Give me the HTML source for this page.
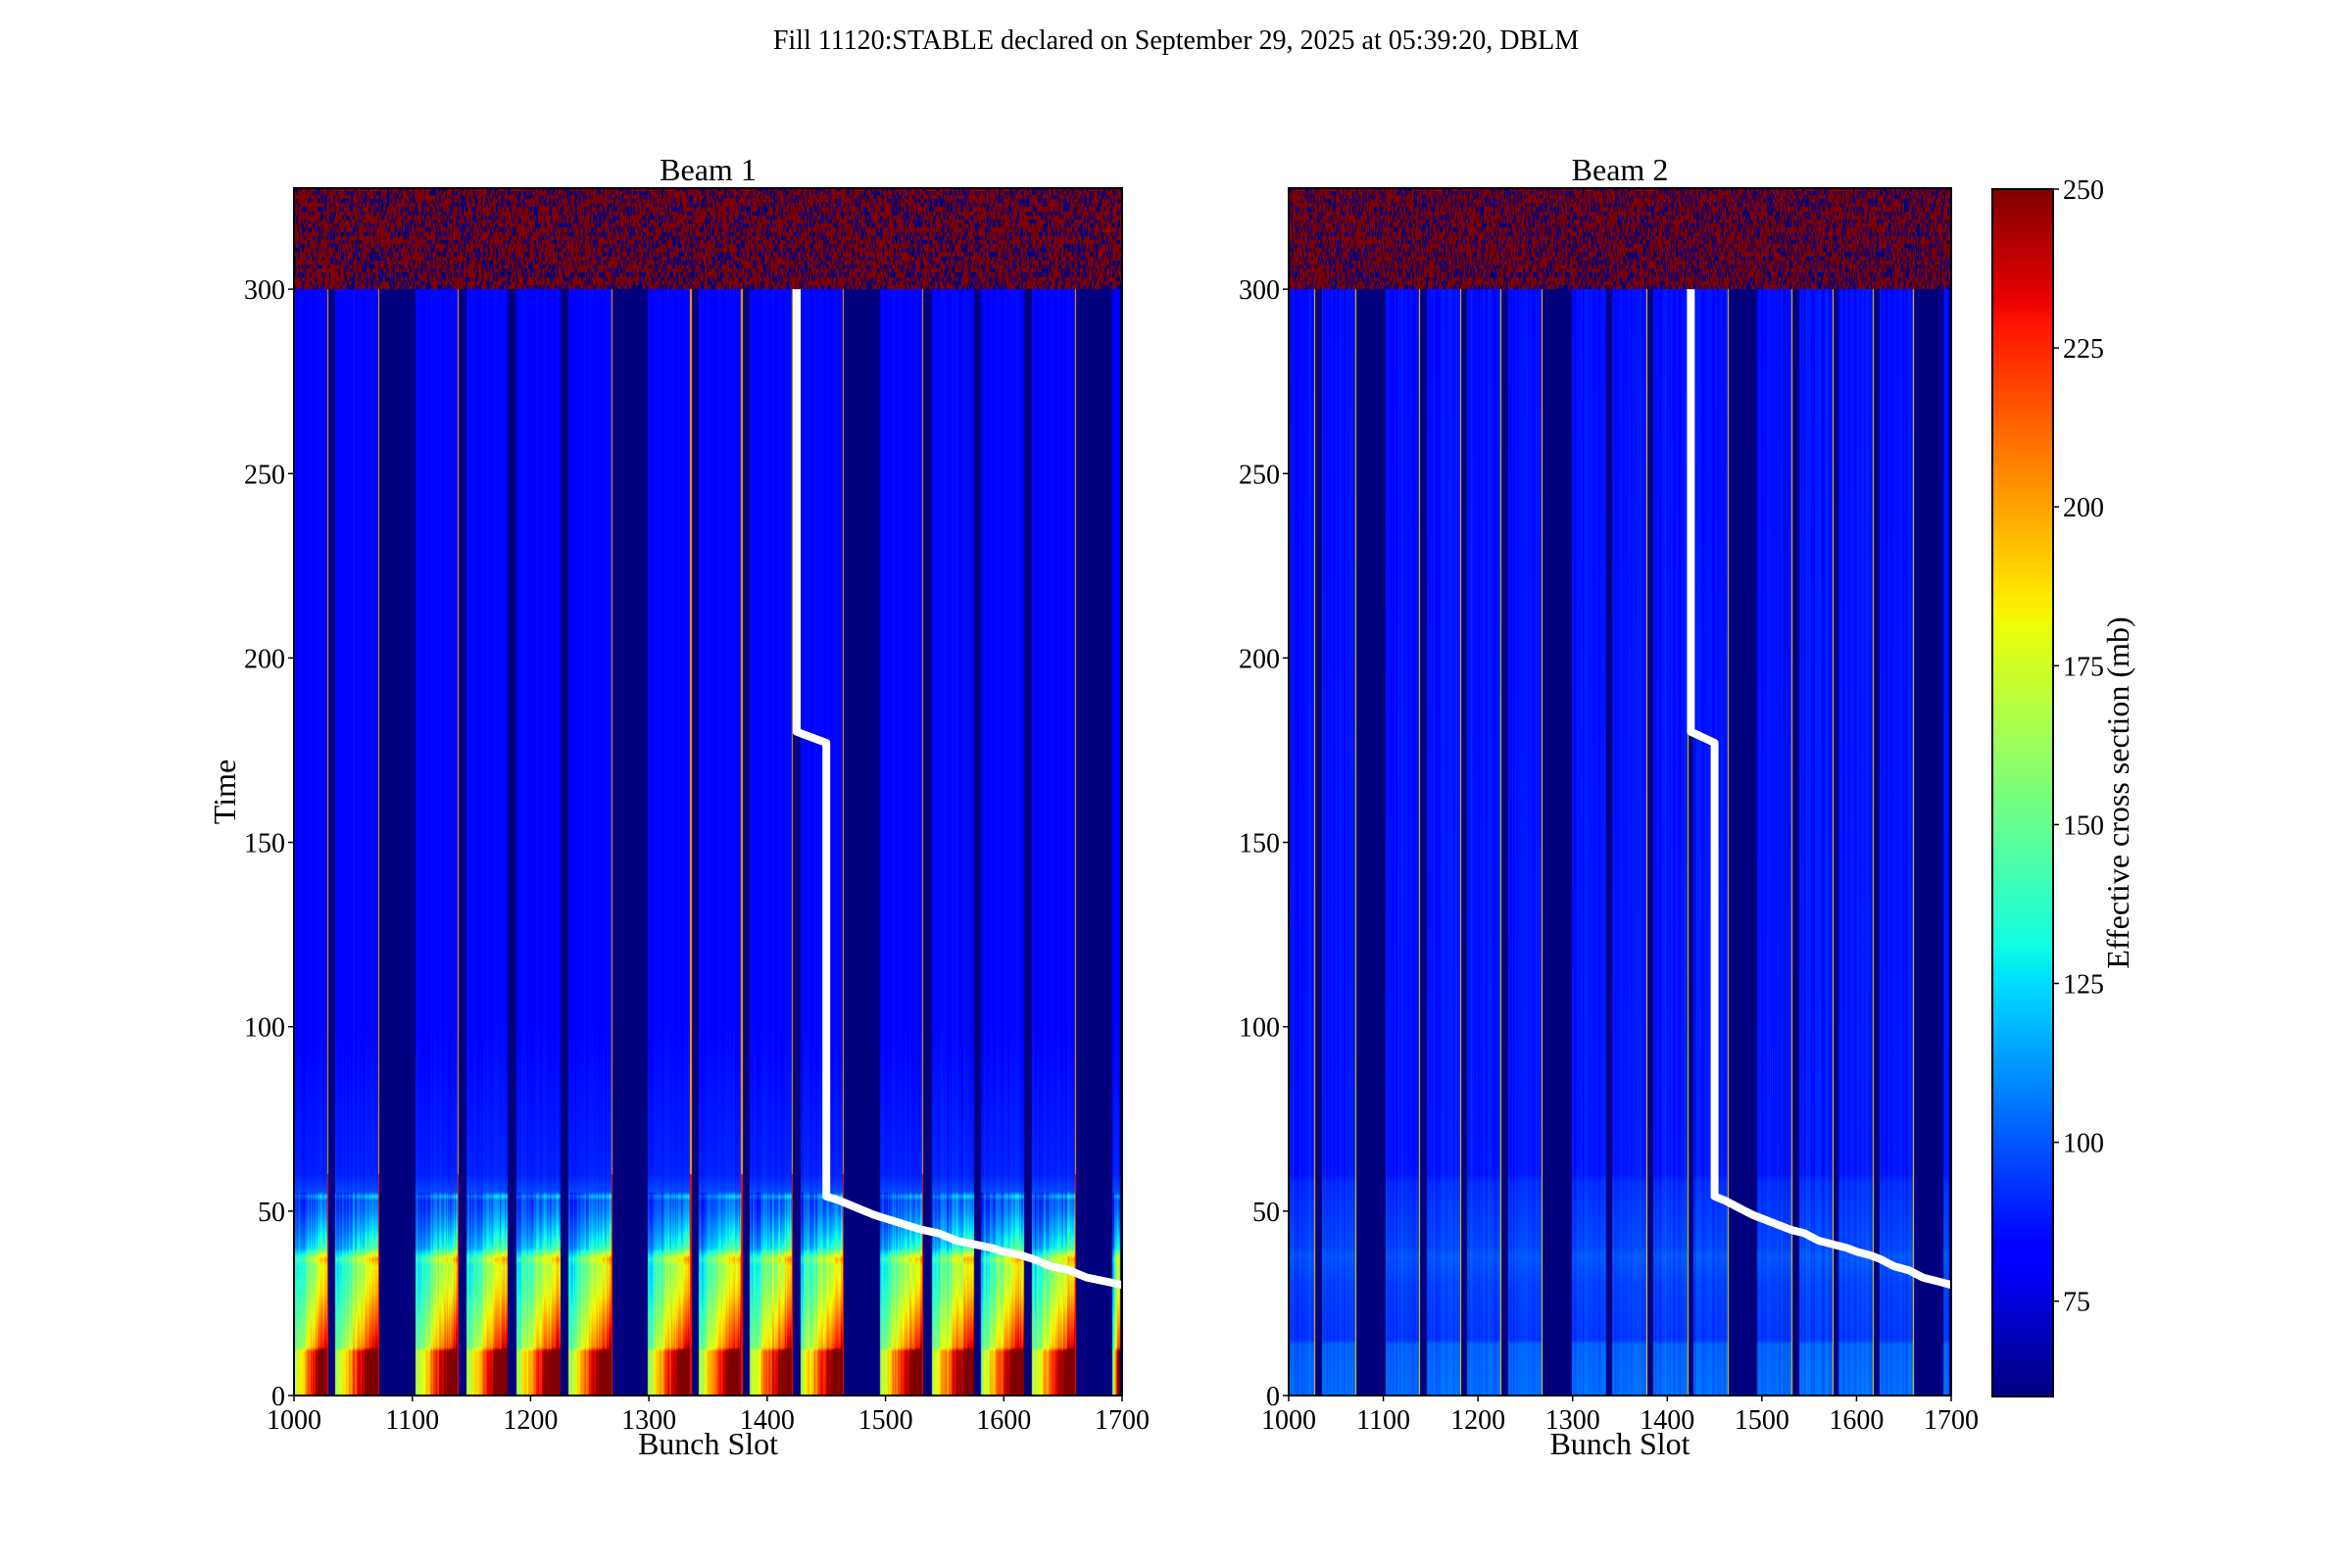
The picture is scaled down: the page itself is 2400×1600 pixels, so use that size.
<!DOCTYPE html>
<html><head><meta charset="utf-8">
<style>
html,body{margin:0;padding:0;background:#fff;}
#root{position:relative;width:2400px;height:1600px;overflow:hidden;font-family:"Liberation Serif",serif;color:#000;}
.t{position:absolute;white-space:nowrap;}
canvas{position:absolute;}
</style></head>
<body>
<div id="root">
<div class="t" style="left:0;width:2400px;text-align:center;top:26px;font-size:28px;">Fill 11120:STABLE declared on September 29, 2025 at 05:39:20, DBLM</div>
<canvas id="c1"></canvas>
<canvas id="c2"></canvas>
<canvas id="cb"></canvas>
<svg id="ov" width="2400" height="1600" style="position:absolute;left:0;top:0"></svg>
</div>
<script>
// ---- data ----
const trainStarts = [1000,1035,1103,1146,1188,1232,1299,1342,1385,1428,1495,1539,1581,1624,1692];
const trainEnds   = [1028,1071,1138,1181,1225,1268,1335,1378,1421,1464,1531,1575,1617,1660,1698];
const profTimes1  = [0,12,13,20,28,35,37,40,45,50,53,54,55,60,100,300];
const profVals1   = [262,258,222,205,185,175,190,140,122,108,104,122,98,90,84,84];
const profTimes2  = [0,14,15,30,38,40,55,58,60,300];
const profVals2   = [104,102,94,96,100,97,93,92,88,86];
const spikes1 = [1028,1071,1138,1268,1335,1378,1421,1464,1531,1660];
const spikes2 = [1027,1070,1138,1181,1224,1267,1335,1378,1421,1464,1531,1575,1617,1660];
const lumiT = [300,180,179,177,54,53,51,49,48,47,46,45,44,42,41,40,39,38,37,35,34,32,31,30];
const lumiX = [1425,1425,1433,1450,1450,1460,1475,1490,1500,1510,1520,1530,1545,1560,1575,1590,1600,1615,1625,1640,1655,1670,1685,1700];
const xTicks = [1000,1100,1200,1300,1400,1500,1600,1700];
const yTicks = [0,50,100,150,200,250,300];
const cbTicks = [75,100,125,150,175,200,225,250];
const vmin=60, vmax=250, tmax=327.4;

// ---- geometry ----
const AX=[{x0:300,x1:1145,name:'beam1',title:'Beam 1',prof:[profTimes1,profVals1],sp:spikes1,strong:true},
          {x0:1315,x1:1991,name:'beam2',title:'Beam 2',prof:[profTimes2,profVals2],sp:spikes2,strong:false}];
const TOP=192, BOT=1424;
const CB={x0:2033,x1:2095,y0:193,y1:1425};

function interp(ts,vs,t){if(t<=ts[0])return vs[0];for(let i=1;i<ts.length;i++){if(t<=ts[i]){const f=(t-ts[i-1])/(ts[i]-ts[i-1]);return vs[i-1]+f*(vs[i]-vs[i-1]);}}return vs[vs.length-1];}
function seg(pts,x){for(let i=1;i<pts.length;i++){if(x<=pts[i][0]){const a=pts[i-1],b=pts[i];return a[1]+(x-a[0])/(b[0]-a[0])*(b[1]-a[1]);}}return pts[pts.length-1][1];}
function jet(f){f=Math.max(0,Math.min(1,f));
 const r=seg([[0,0],[0.35,0],[0.66,1],[0.89,1],[1,0.5]],f);
 const g=seg([[0,0],[0.125,0],[0.375,1],[0.64,1],[0.91,0],[1,0]],f);
 const b=seg([[0,0.5],[0.11,1],[0.34,1],[0.65,0],[1,0]],f);
 return [r*255|0,g*255|0,b*255|0];}
function hash(a,b){let h=(a*374761393+b*668265263)|0;h=(h^(h>>>13))*1274126177|0;return ((h^(h>>>16))>>>0)/4294967296;}
function trainOf(s){for(let i=0;i<trainStarts.length;i++){if(s>=trainStarts[i]&&s<trainEnds[i])return i;}return -1;}

function value(ax,slot,t){
  const s=Math.floor(slot);
  if(t>300){return hash(s,Math.floor(t*0.9))<0.64?vmax:vmin;}
  if(ax.sp.indexOf(s)>=0) return ax.strong?(t<60?230:200):190;
  const k=trainOf(s); if(k<0) return 50;
  const pos=(s-trainStarts[k])/(trainEnds[k]-trainStarts[k]);
  const base=interp(ax.prof[0],ax.prof[1],t);
  const n=(hash(s,7)-0.5)*(ax.strong?24:8);
  if(ax.strong){ if(t<55) return 84+(base-84)*(0.45+0.7*pos)+n; return base+n*0.2; }
  return base+n;
}
function drawAx(id,ax){
  const c=document.getElementById(id);const W=ax.x1-ax.x0,H=BOT-TOP;
  c.width=W;c.height=H;c.style.left=ax.x0+'px';c.style.top=TOP+'px';
  const ctx=c.getContext('2d');const img=ctx.createImageData(W,H);const d=img.data;
  for(let y=0;y<H;y++){const t=(BOT-(TOP+y+0.5))/(BOT-TOP)*tmax;
    for(let x=0;x<W;x++){const slot=1000+(x+0.5)/W*700;
      const v=value(ax,slot,t);const col=jet((v-vmin)/(vmax-vmin));const o=(y*W+x)*4;
      d[o]=col[0];d[o+1]=col[1];d[o+2]=col[2];d[o+3]=255;}}
  ctx.putImageData(img,0,0);
}
drawAx('c1',AX[0]);drawAx('c2',AX[1]);
(function(){const c=document.getElementById('cb');const W=CB.x1-CB.x0,H=CB.y1-CB.y0;c.width=W;c.height=H;c.style.left=CB.x0+'px';c.style.top=CB.y0+'px';
 const ctx=c.getContext('2d');for(let y=0;y<H;y++){const col=jet(1-(y+0.5)/H);ctx.fillStyle='rgb('+col+')';ctx.fillRect(0,y,W,1);}})();

// ---- overlay ----
const NS='http://www.w3.org/2000/svg';const ov=document.getElementById('ov');
function mk(tag,attrs,txt){const e=document.createElementNS(NS,tag);for(const k in attrs)e.setAttribute(k,attrs[k]);if(txt!==undefined)e.textContent=txt;ov.appendChild(e);return e;}
function yPix(t){return BOT-t/tmax*(BOT-TOP);}
AX.forEach(function(ax){
  const xs=function(v){return ax.x0+(v-1000)/700*(ax.x1-ax.x0);};
  let d='';for(let i=0;i<lumiX.length;i++){d+=(i?'L':'M')+xs(lumiX[i]).toFixed(1)+' '+yPix(lumiT[i]).toFixed(1);}
  const ln=mk('path',{d:d,fill:'none',stroke:'#fff','stroke-width':8,'stroke-linejoin':'round'});
  
  
  const fr=mk('rect',{x:ax.x0,y:TOP,width:ax.x1-ax.x0,height:BOT-TOP,fill:'none',stroke:'#000','stroke-width':2});
  
  
  const tt=mk('text',{x:(ax.x0+ax.x1)/2,y:184,'text-anchor':'middle','font-size':32},ax.title);
  
  
  xTicks.forEach(function(v){const x=xs(v);
    const tk=mk('line',{x1:x,x2:x,y1:BOT,y2:BOT+6,stroke:'#000','stroke-width':1.5});
    
    
    const tl=mk('text',{x:x,y:BOT+34,'text-anchor':'middle','font-size':28},String(v));
    
    });
  yTicks.forEach(function(v){const y=yPix(v);
    const tk=mk('line',{x1:ax.x0-6,x2:ax.x0,y1:y,y2:y,stroke:'#000','stroke-width':1.5});
    
    
    const tl=mk('text',{x:ax.x0-9,y:y+10,'text-anchor':'end','font-size':28},String(v));
    
    });
  const xl=mk('text',{x:(ax.x0+ax.x1)/2,y:1484,'text-anchor':'middle','font-size':32},'Bunch Slot');
  
  
});
const yl=mk('text',{x:0,y:0,'text-anchor':'middle','font-size':32,transform:'translate(240,808) rotate(-90)'},'Time');


const cf=mk('rect',{x:CB.x0,y:CB.y0,width:CB.x1-CB.x0,height:CB.y1-CB.y0,fill:'none',stroke:'#000','stroke-width':2});


cbTicks.forEach(function(v){const y=CB.y1-(v-vmin)/(vmax-vmin)*(CB.y1-CB.y0);
  const tk=mk('line',{x1:CB.x1,x2:CB.x1+6,y1:y,y2:y,stroke:'#000','stroke-width':1.5});
  
  
  const tl=mk('text',{x:CB.x1+10,y:y+10,'font-size':28},String(v));
  
  });
const cl=mk('text',{x:0,y:0,'text-anchor':'middle','font-size':32,transform:'translate(2172,809) rotate(-90)'},'Effective cross section (mb)');


</script>
</body></html>
